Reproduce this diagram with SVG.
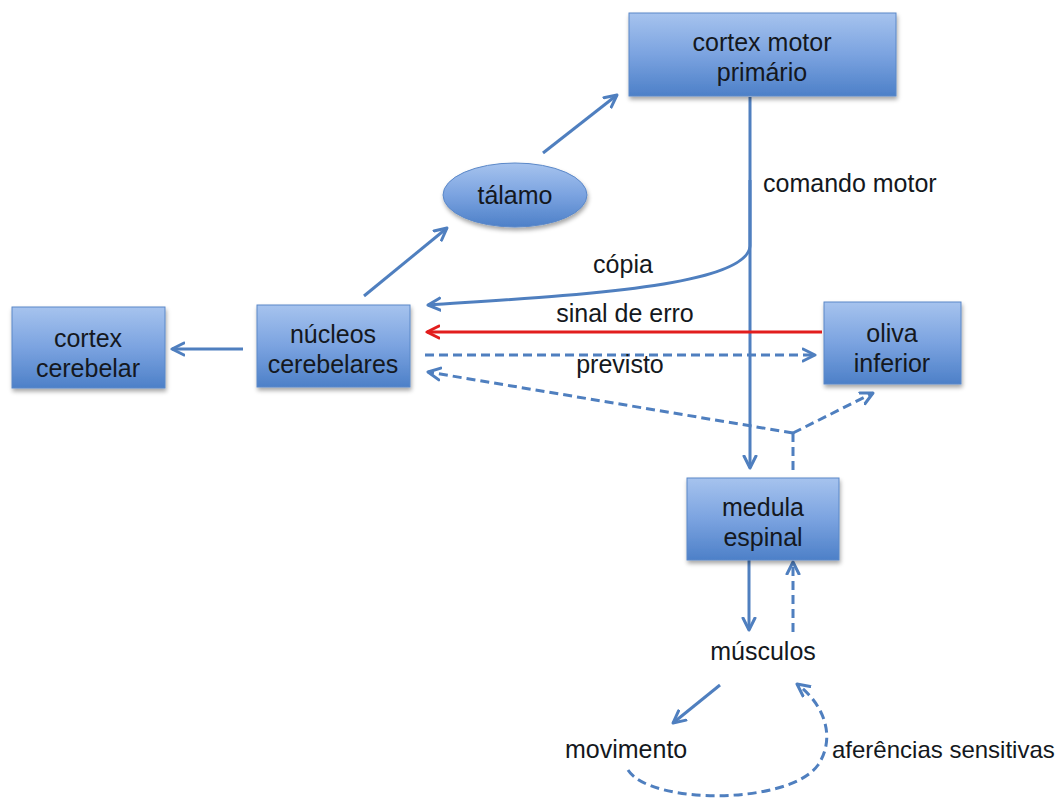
<svg xmlns="http://www.w3.org/2000/svg" width="1062" height="798" viewBox="0 0 1062 798">
<defs>
<linearGradient id="g" x1="0" y1="0" x2="0" y2="1">
<stop offset="0" stop-color="#a6c3ee"/>
<stop offset="0.5" stop-color="#7ba3e0"/>
<stop offset="1" stop-color="#4d80c8"/>
</linearGradient>
<filter id="sh" x="-20%" y="-20%" width="140%" height="150%">
<feDropShadow dx="1" dy="3" stdDeviation="2" flood-color="#000" flood-opacity="0.35"/>
</filter>
<marker id="a" viewBox="0 0 16 16" refX="13" refY="8" markerWidth="16" markerHeight="16" markerUnits="userSpaceOnUse" orient="auto">
<path d="M1,2 L13,8 L1,14" fill="none" stroke="#4f7fbf" stroke-width="3" stroke-linecap="round" stroke-linejoin="round"/>
</marker>
<marker id="ar" viewBox="0 0 16 16" refX="13" refY="8" markerWidth="16" markerHeight="16" markerUnits="userSpaceOnUse" orient="auto">
<path d="M1,2 L13,8 L1,14" fill="none" stroke="#e21d1d" stroke-width="3" stroke-linecap="round" stroke-linejoin="round"/>
</marker>
</defs>
<style>
.box{fill:url(#g);stroke:#5b88c8;stroke-width:1;filter:url(#sh)}
.t{font-family:"Liberation Sans",Arial,sans-serif;font-size:25px;fill:#141820}
.c{text-anchor:middle}
.ln{fill:none;stroke:#4f7fbf;stroke-width:3}
.d{stroke-dasharray:9 5}
.red{fill:none;stroke:#e21d1d;stroke-width:3}
</style>
<rect width="1062" height="798" fill="#fff"/>
<g id="connectors">
<path class="ln" d="M750,97 L750,468" marker-end="url(#a)"/>
<path class="ln" d="M750,180 L750,246 C747,288 560,296 428,305" marker-end="url(#a)"/>
<path class="red" d="M822,332 L427,332" marker-end="url(#ar)"/>
<path class="ln d" d="M425,355 L815,355" marker-end="url(#a)"/>
<path class="ln d" d="M793,433 L428,372" marker-end="url(#a)"/>
<path class="ln d" d="M793,433 L873,393" marker-end="url(#a)"/>
<path class="ln d" d="M793,470 L793,433"/>
<path class="ln" d="M243,349 L172,349" marker-end="url(#a)"/>
<path class="ln" d="M364,296 L447,228" marker-end="url(#a)"/>
<path class="ln" d="M543,153 L617,95" marker-end="url(#a)"/>
<path class="ln" d="M749,560 L749,630" marker-end="url(#a)"/>
<path class="ln d" d="M793,632 L793,562" marker-end="url(#a)"/>
<path class="ln" d="M720,685 L673,723" marker-end="url(#a)"/>
<path class="ln d" d="M628,770 C650,805 790,805 818,765 C836,738 825,705 797,684" marker-end="url(#a)"/>
<text class="t" x="763" y="192">comando motor</text>
<text class="t c" x="623" y="273">cópia</text>
<text class="t c" x="625" y="322">sinal de erro</text>
<text class="t c" x="620" y="373">previsto</text>
</g>
<g id="cortex-motor">
<rect class="box" x="629" y="13" width="267" height="83"/>
<text class="t c" x="762" y="51">cortex motor</text>
<text class="t c" x="762" y="81">primário</text>
</g>
<g id="talamo">
<ellipse class="box" cx="515" cy="195" rx="72" ry="32"/>
<text class="t c" x="515" y="204">tálamo</text>
</g>
<g id="cortex-cerebelar">
<rect class="box" x="12" y="307" width="153" height="81"/>
<text class="t c" x="88" y="347">cortex</text>
<text class="t c" x="88" y="377">cerebelar</text>
</g>
<g id="nucleos">
<rect class="box" x="257" y="305" width="153" height="82"/>
<text class="t c" x="333" y="343">núcleos</text>
<text class="t c" x="333" y="373">cerebelares</text>
</g>
<g id="oliva">
<rect class="box" x="824" y="302" width="137" height="82"/>
<text class="t c" x="892" y="342">oliva</text>
<text class="t c" x="892" y="372">inferior</text>
</g>
<g id="medula">
<rect class="box" x="687" y="478" width="152" height="82"/>
<text class="t c" x="763" y="516">medula</text>
<text class="t c" x="763" y="546">espinal</text>
</g>
<g id="musculos">
<text class="t c" x="763" y="660">músculos</text>
</g>
<g id="movimento">
<text class="t" x="565" y="758">movimento</text>
</g>
<g id="aferencias">
<text class="t" x="832" y="758" style="font-size:24px">aferências sensitivas</text>
</g>
</svg>
